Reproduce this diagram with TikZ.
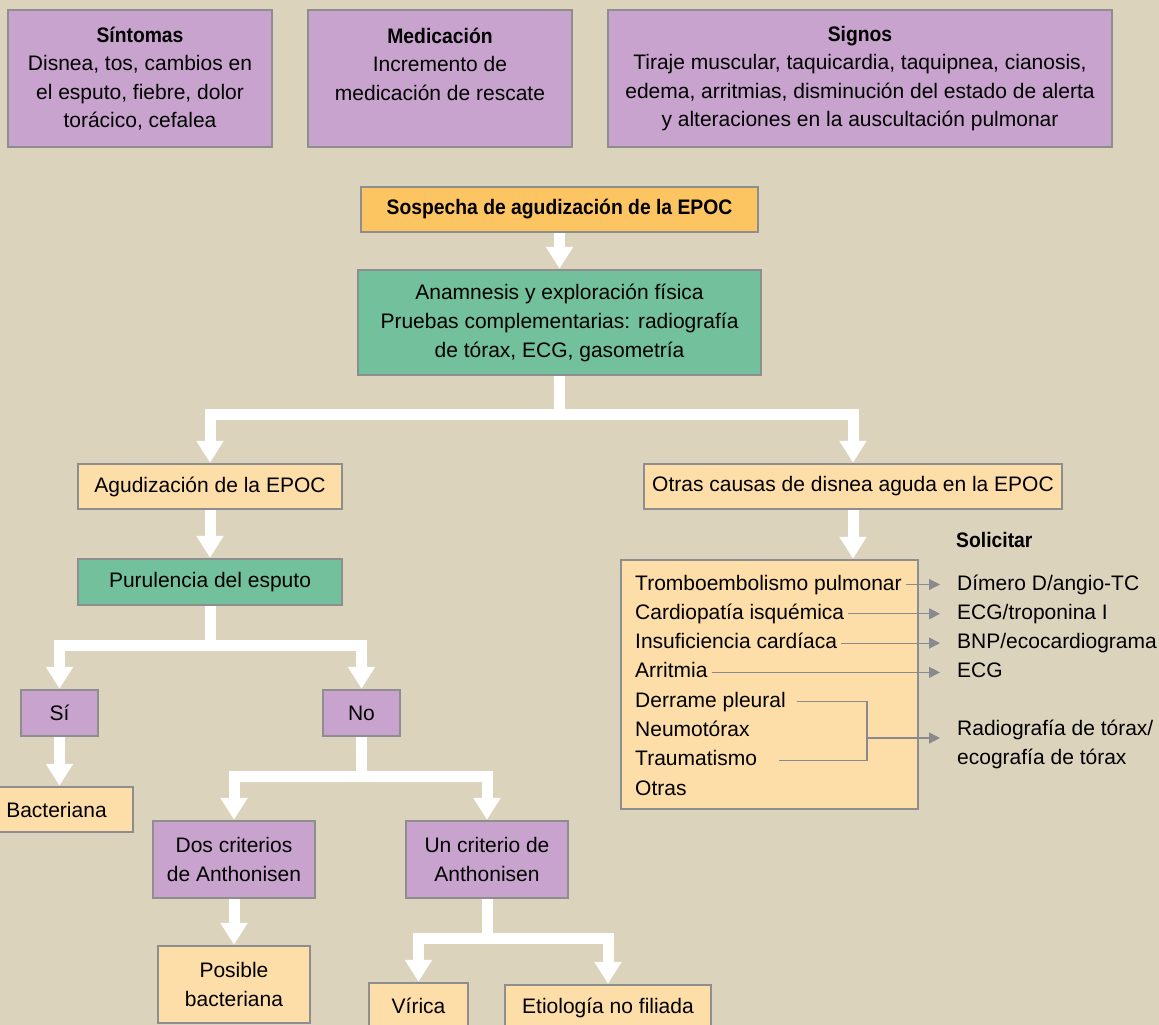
\documentclass[tikz,border=0pt]{standalone}
\usepackage{fontspec}
\setmainfont{Liberation Sans}[BoldFeatures={FakeStretch=0.92}]
\usetikzlibrary{arrows.meta}
\definecolor{fondo}{RGB}{220,211,189}
\definecolor{lila}{RGB}{200,163,206}
\definecolor{verde}{RGB}{114,192,156}
\definecolor{naranja}{RGB}{253,196,98}
\definecolor{crema}{RGB}{253,221,168}
\definecolor{borde}{RGB}{142,142,144}
\definecolor{gris}{RGB}{136,138,144}
\tikzset{
  caja/.style={draw=borde, line width=2.5pt, inner sep=0pt, align=center,
    font=\fontsize{21}{29}\selectfont},
  cajalila/.style={caja, fill=lila},
  cajaverde/.style={caja, fill=verde},
  cajanaranja/.style={caja, fill=naranja},
  cajacrema/.style={caja, fill=crema},
  fila/.style={anchor=west, inner xsep=4pt, inner ysep=0pt, text height=15pt,
    text depth=4pt, font=\fontsize{21}{29}\selectfont},
  pide/.style={fila, inner xsep=17pt},
  flujo/.style={draw=white, line width=11pt, line join=miter,
    -{Triangle[width=26pt,length=22pt]}},
  fina/.style={draw=gris, line width=1.2pt},
  finaflecha/.style={fina, -{Triangle[width=11pt,length=11pt]}}
}
\begin{document}
\begin{tikzpicture}[x=1pt,y=-1pt]
  \path[use as bounding box, fill=fondo] (0,0) rectangle (1159,1025);
  \node[cajalila, minimum width=264pt, minimum height=137pt, font=\fontsize{21}{28.5}\selectfont] (sint) at (140,78.5)
    {\textbf{Síntomas}\\Disnea, tos, cambios en\\el esputo, fiebre, dolor\\torácico, cefalea};
  \node[cajalila, minimum width=264pt, minimum height=137pt, font=\fontsize{21}{28.5}\selectfont] (medi) at (440,78.5)
    {\textbf{Medicación}\\Incremento de\\medicación de rescate\\\mbox{}};
  \node[cajalila, minimum width=504pt, minimum height=137pt, font=\fontsize{21}{28.5}\selectfont] (sign) at (860,78.5)
    {\textbf{Signos}\\Tiraje muscular, taquicardia, taquipnea, cianosis,\\edema, arritmias, disminución del estado de alerta\\y alteraciones en la auscultación pulmonar};
  \node[cajanaranja, minimum width=397pt, minimum height=45pt] (sosp) at (559.5,209.5)
    {\textbf{Sospecha de agudización de la EPOC}};
  \node[cajaverde, minimum width=403pt, minimum height=105pt] (anam) at (559.5,322.5)
    {Anamnesis y exploración física\\Pruebas complementarias: radiografía\\de tórax, ECG, gasometría};
  \node[cajacrema, minimum width=264pt, minimum height=45pt] (agud) at (210,486.5) {Agudización de la EPOC};
  \node[cajacrema, minimum width=418pt, minimum height=45pt] (otras) at (853,486.5) {Otras causas de disnea aguda en la EPOC};
  \node[cajaverde, minimum width=264pt, minimum height=46pt] (puru) at (210,582) {Purulencia del esputo};
  \node[cajalila, minimum width=77pt, minimum height=46pt] (si) at (59.5,713) {Sí};
  \node[cajalila, minimum width=77pt, minimum height=46pt] (no) at (361.5,713) {No};
  \node[cajacrema, minimum width=153pt, minimum height=45pt] (bact) at (56.5,809.5) {Bacteriana};
  \node[cajalila, minimum width=162pt, minimum height=77pt] (dos) at (234,859.5) {Dos criterios\\de Anthonisen};
  \node[cajalila, minimum width=162pt, minimum height=77pt] (un) at (487,859.5) {Un criterio de\\Anthonisen};
  \node[cajacrema, minimum width=152pt, minimum height=77pt] (posi) at (234,984.5) {Posible\\bacteriana};
  \node[cajacrema, minimum width=99pt, minimum height=46pt] (viri) at (418.5,1006) {Vírica};
  \node[cajacrema, minimum width=206pt, minimum height=46pt] (etio) at (608,1008) {Etiología no filiada};
  \node[cajacrema, minimum width=297pt, minimum height=249pt] (lista) at (769.5,684.5) {};
  \node[fila] (r0) at (631,584.5) {Tromboembolismo pulmonar};
  \node[fila] (r1) at (631,613.8) {Cardiopatía isquémica};
  \node[fila] (r2) at (631,643.1) {Insuficiencia cardíaca};
  \node[fila] (r3) at (631,672.4) {Arritmia};
  \node[fila] (r4) at (631,701.7) {Derrame pleural};
  \node[fila] (r5) at (631,731) {Neumotórax};
  \node[fila] (r6) at (631,760.3) {Traumatismo};
  \node[fila] (r7) at (631,789.6) {Otras};
  \node[anchor=west, inner sep=0pt, font=\fontsize{21}{29}\selectfont] (soli) at (956,540) {\textbf{Solicitar}};
  \node[pide] (p0) at (940,584.5) {Dímero D/angio-TC};
  \node[pide] (p1) at (940,613.8) {ECG/troponina I};
  \node[pide] (p2) at (940,643.1) {BNP/ecocardiograma};
  \node[pide] (p3) at (940,672.4) {ECG};
  \node[anchor=west, inner xsep=17pt, inner ysep=0pt, align=left, font=\fontsize{21}{29}\selectfont] (radi) at (940,744)
    {Radiografía de tórax/\\ecografía de tórax};
  \coordinate (brk) at (867,738);
  \draw[flujo] (sosp.south) -- (anam.north);
  \draw[flujo] (anam.south) -- ++(0,38.5) -| (agud.north);
  \draw[flujo] (anam.south) -- ++(0,38.5) -| (otras.north);
  \draw[flujo] (agud.south) -- (puru.north);
  \draw[flujo] (otras.south) -- (otras.south |- lista.north);
  \draw[flujo] (puru.south) -- ++(0,39.5) -| (si.north);
  \draw[flujo] (puru.south) -- ++(0,39.5) -| (no.north);
  \draw[flujo] (si.south) -- (si.south |- bact.north);
  \draw[flujo] (no.south) -- ++(0,39.5) -| (dos.north);
  \draw[flujo] (no.south) -- ++(0,39.5) -| (un.north);
  \draw[flujo] (dos.south) -- (posi.north);
  \draw[flujo] (un.south) -- ++(0,39) -| (viri.north);
  \draw[flujo] (un.south) -- ++(0,39) -| (etio.north);
  \draw[finaflecha] (r0.east) -- (r0.east -| p0.west);
  \draw[finaflecha] (r1.east) -- (r1.east -| p1.west);
  \draw[finaflecha] (r2.east) -- (r2.east -| p2.west);
  \draw[finaflecha] (r3.east) -- (r3.east -| p3.west);
  \draw[fina] ([xshift=7pt]r4.east) -| (brk) |- ([xshift=18pt]r6.east);
  \draw[finaflecha] (brk) -- (brk -| radi.west);
\end{tikzpicture}
\end{document}
